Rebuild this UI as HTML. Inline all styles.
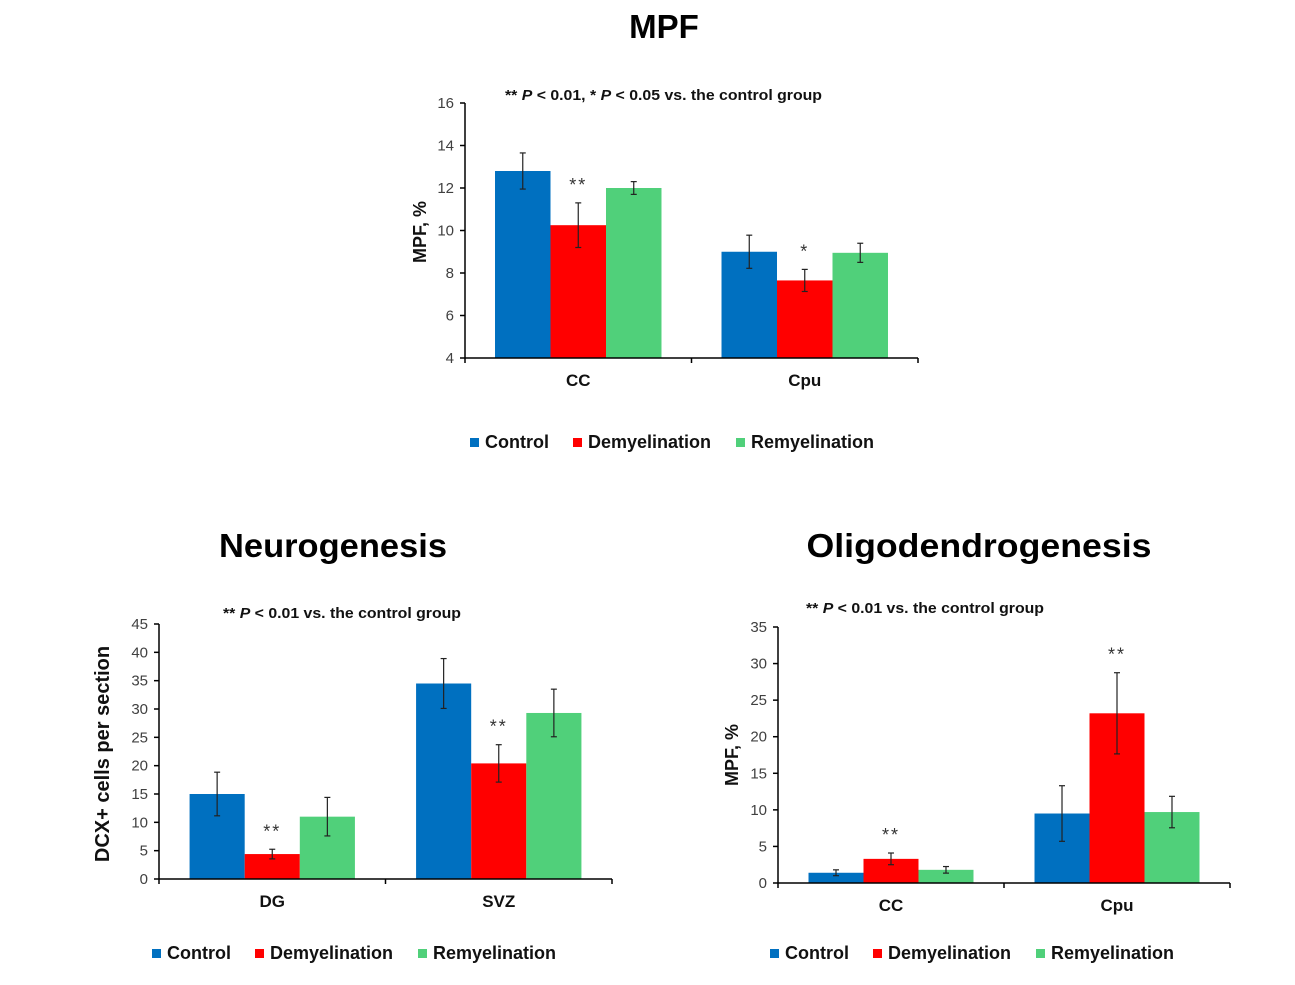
<!DOCTYPE html>
<html><head><meta charset="utf-8"><style>
html,body{margin:0;padding:0;background:#fff;}
svg{display:block;font-family:"Liberation Sans",Arial,sans-serif;}
</style></head><body>
<svg id="fig" width="1295" height="985" viewBox="0 0 1295 985" xmlns="http://www.w3.org/2000/svg">
<text x="664" y="38" text-anchor="middle" font-size="33" font-weight="bold" fill="#000">MPF</text>
<text x="333" y="557" text-anchor="middle" font-size="33" font-weight="bold" fill="#000" textLength="228" lengthAdjust="spacingAndGlyphs">Neurogenesis</text>
<text x="979" y="557" text-anchor="middle" font-size="33" font-weight="bold" fill="#000" textLength="345" lengthAdjust="spacingAndGlyphs">Oligodendrogenesis</text>
</svg>
<script>
// ---- Chart data ----
const seriesNames = ["Control", "Demyelination", "Remyelination"];
const mpfCategories = ["CC", "Cpu"];
const mpfControl = [12.8, 9.0];
const mpfDemyelination = [10.25, 7.65];
const mpfRemyelination = [12.0, 8.95];
const mpfControlErr = [0.85, 0.78];
const mpfDemyelinationErr = [1.05, 0.52];
const mpfRemyelinationErr = [0.3, 0.45];
const mpfStars = ["", "**", "", "", "*", ""];
const mpfTicks = [4, 6, 8, 10, 12, 14, 16];

const neuroCategories = ["DG", "SVZ"];
const neuroControl = [15.0, 34.5];
const neuroDemyelination = [4.4, 20.4];
const neuroRemyelination = [11.0, 29.3];
const neuroControlErr = [3.85, 4.4];
const neuroDemyelinationErr = [0.85, 3.3];
const neuroRemyelinationErr = [3.4, 4.2];
const neuroStars = ["", "**", "", "", "**", ""];
const neuroTicks = [0, 5, 10, 15, 20, 25, 30, 35, 40, 45];

const oligoCategories = ["CC", "Cpu"];
const oligoControl = [1.4, 9.5];
const oligoDemyelination = [3.3, 23.2];
const oligoRemyelination = [1.8, 9.7];
const oligoControlErr = [0.4, 3.8];
const oligoDemyelinationErr = [0.8, 5.55];
const oligoRemyelinationErr = [0.45, 2.15];
const oligoStars = ["", "**", "", "", "**", ""];
const oligoTicks = [0, 5, 10, 15, 20, 25, 30, 35];

const colors = ["#0070c0", "#ff0000", "#50d07a"];
const NS = "http://www.w3.org/2000/svg";
const svg = document.getElementById("fig");

function mk(tag, attrs, parent) {
  const e = document.createElementNS(NS, tag);
  for (const k in attrs) e.setAttribute(k, attrs[k]);
  (parent || svg).appendChild(e);
  return e;
}

function drawChart(cfg) {
  const g = mk("g", {});
  
  
  const ymin = cfg.ticks[0], ymax = cfg.ticks[cfg.ticks.length - 1];
  const yS = v => cfg.y0 - (v - ymin) / (ymax - ymin) * (cfg.y0 - cfg.y1);
  const groupW = (cfg.x1 - cfg.x0) / cfg.cats.length;
  const barW = groupW * cfg.barFrac / 3;
  const xS = (ci, si) => cfg.x0 + ci * groupW + (groupW - 3 * barW) / 2 + si * barW;
  const series = [cfg.a, cfg.b, cfg.c];
  const errs = [cfg.ea, cfg.eb, cfg.ec];
  for (let ci = 0; ci < cfg.cats.length; ci++) {
    for (let si = 0; si < 3; si++) {
      const v = series[si][ci];
      const r = mk("rect", {x: xS(ci, si), y: yS(v), width: barW, height: yS(ymin) - yS(v), fill: colors[si]}, g);
      
      
    }
  }
  for (let ci = 0; ci < cfg.cats.length; ci++) {
    for (let si = 0; si < 3; si++) {
      const v = series[si][ci], e = errs[si][ci];
      const cx = xS(ci, si) + barW / 2;
      const eg = mk("g", {stroke: "#222", "stroke-width": 1.2}, g);
      
      
      mk("line", {x1: cx, x2: cx, y1: yS(v + e), y2: yS(v - e)}, eg);
      mk("line", {x1: cx - 3, x2: cx + 3, y1: yS(v + e), y2: yS(v + e)}, eg);
      mk("line", {x1: cx - 3, x2: cx + 3, y1: yS(v - e), y2: yS(v - e)}, eg);
      const s = cfg.stars[ci * 3 + si];
      if (s) {
        const t = mk("text", {x: cx, y: yS(v + e) - 12, "text-anchor": "middle", "font-size": 18, fill: "#333", "letter-spacing": 2}, g);
        t.textContent = s;
        
        
      }
    }
  }
  const ax = mk("g", {stroke: "#000", "stroke-width": 1.5}, g);
  
  
  mk("line", {x1: cfg.x0, x2: cfg.x0, y1: cfg.y1, y2: cfg.y0}, ax);
  mk("line", {x1: cfg.x0, x2: cfg.x1, y1: cfg.y0, y2: cfg.y0}, ax);
  for (let i = 0; i <= cfg.cats.length; i++) {
    const x = cfg.x0 + i * groupW;
    mk("line", {x1: x, x2: x, y1: cfg.y0, y2: cfg.y0 + 5}, ax);
  }
  for (const t of cfg.ticks) {
    mk("line", {x1: cfg.x0 - 5, x2: cfg.x0, y1: yS(t), y2: yS(t)}, ax);
    const tl = mk("text", {x: cfg.x0 - 11, y: yS(t) + 5, "text-anchor": "end", "font-size": 15, fill: "#404040"}, g);
    tl.textContent = t;
    
    
  }
  cfg.cats.forEach((c, ci) => {
    const t = mk("text", {x: cfg.x0 + (ci + 0.5) * groupW, y: cfg.y0 + 28, "text-anchor": "middle", "font-size": 17, "font-weight": "bold", fill: "#111"}, g);
    t.textContent = c;
    
    
  });
  const yt = mk("text", {x: 0, y: 0, transform: `translate(${cfg.ytx},${cfg.yty}) rotate(-90)`, "text-anchor": "middle", "font-size": cfg.ytSize, "font-weight": "bold", fill: "#111"}, g);
  yt.textContent = cfg.ytitle;
  
  
  const an = mk("text", {x: cfg.anx, y: cfg.any, "font-size": 15, "font-weight": "bold", fill: "#111", textLength: cfg.anw, lengthAdjust: "spacingAndGlyphs"}, g);
  
  
  cfg.note.forEach(p => {
    const ts = mk("tspan", p[1] ? {"font-style": "italic"} : {}, an);
    ts.textContent = p[0];
  });
  const lg = mk("g", {}, g);
  
  
  const offs = [0, 103, 266];
  seriesNames.forEach((n, si) => {
    const x = cfg.lx + offs[si];
    const eg = mk("g", {}, lg);
    
    
    mk("rect", {x: x, y: cfg.ly - 10, width: 9, height: 9, fill: colors[si]}, eg);
    const t = mk("text", {x: x + 15, y: cfg.ly, "font-size": 18, "font-weight": "bold", fill: "#111"}, eg);
    t.textContent = n;
  });
}

drawChart({name: "mpf-chart", cats: mpfCategories, a: mpfControl, b: mpfDemyelination, c: mpfRemyelination,
  ea: mpfControlErr, eb: mpfDemyelinationErr, ec: mpfRemyelinationErr, stars: mpfStars, ticks: mpfTicks,
  x0: 465, x1: 918, y0: 358, y1: 103, barFrac: 0.735,
  ytitle: "MPF, %", ytx: 426, yty: 232, ytSize: 18,
  note: [["** ", false], ["P", true], [" < 0.01, * ", false], ["P", true], [" < 0.05 vs. the control group", false]],
  anx: 505, any: 100, anw: 317, lx: 470, ly: 448});

drawChart({name: "neurogenesis-chart", cats: neuroCategories, a: neuroControl, b: neuroDemyelination, c: neuroRemyelination,
  ea: neuroControlErr, eb: neuroDemyelinationErr, ec: neuroRemyelinationErr, stars: neuroStars, ticks: neuroTicks,
  x0: 159, x1: 612, y0: 879, y1: 624, barFrac: 0.73,
  ytitle: "DCX+ cells per section", ytx: 109, yty: 754, ytSize: 20,
  note: [["** ", false], ["P", true], [" < 0.01 vs. the control group", false]],
  anx: 223, any: 618, anw: 238, lx: 152, ly: 959});

drawChart({name: "oligodendrogenesis-chart", cats: oligoCategories, a: oligoControl, b: oligoDemyelination, c: oligoRemyelination,
  ea: oligoControlErr, eb: oligoDemyelinationErr, ec: oligoRemyelinationErr, stars: oligoStars, ticks: oligoTicks,
  x0: 778, x1: 1230, y0: 883, y1: 627, barFrac: 0.73,
  ytitle: "MPF, %", ytx: 738, yty: 755, ytSize: 18,
  note: [["** ", false], ["P", true], [" < 0.01 vs. the control group", false]],
  anx: 806, any: 613, anw: 238, lx: 770, ly: 959});
</script>
</body></html>
